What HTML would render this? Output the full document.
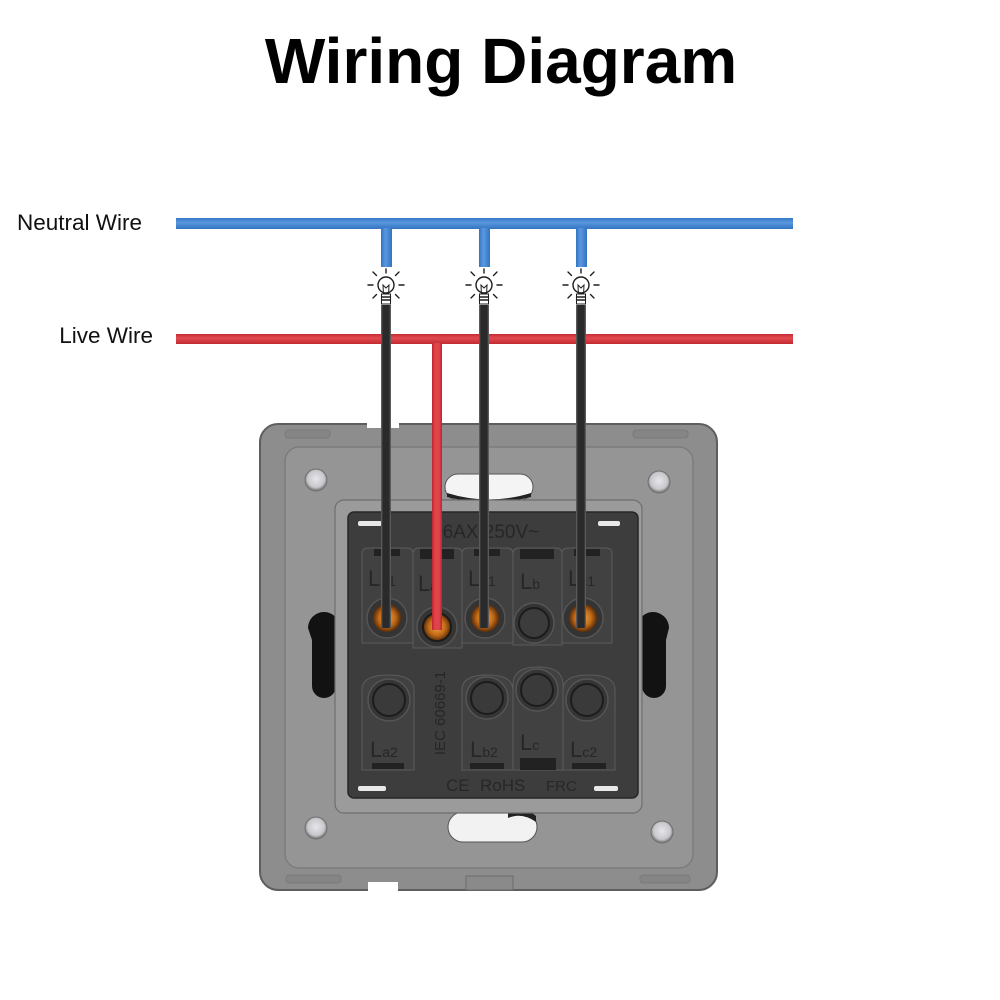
<!DOCTYPE html>
<html><head><meta charset="utf-8">
<style>
html,body{margin:0;padding:0;background:#fff;}
svg{display:block;}
</style></head>
<body>
<svg width="1000" height="1000" viewBox="0 0 1000 1000" xmlns="http://www.w3.org/2000/svg">
<defs>
  <radialGradient id="cu" cx="50%" cy="50%" r="50%">
    <stop offset="0" stop-color="#f0a040"/>
    <stop offset="0.6" stop-color="#c06a18"/>
    <stop offset="1" stop-color="#5a2c08"/>
  </radialGradient>
  <radialGradient id="hole" cx="50%" cy="45%" r="55%">
    <stop offset="0" stop-color="#e6e6ea"/>
    <stop offset="0.7" stop-color="#c8c8cc"/>
    <stop offset="1" stop-color="#6a6a6a"/>
  </radialGradient>
  <linearGradient id="bw" x1="0" x2="1" y1="0" y2="0">
    <stop offset="0" stop-color="#6a6a6a"/>
    <stop offset="0.2" stop-color="#2a2a2a"/>
    <stop offset="0.8" stop-color="#2a2a2a"/>
    <stop offset="1" stop-color="#6a6a6a"/>
  </linearGradient>
  <linearGradient id="rw" x1="0" x2="1" y1="0" y2="0">
    <stop offset="0" stop-color="#b8262c"/>
    <stop offset="0.3" stop-color="#e0444a"/>
    <stop offset="0.7" stop-color="#e0444a"/>
    <stop offset="1" stop-color="#b8262c"/>
  </linearGradient>
  <linearGradient id="rh" x1="0" x2="0" y1="0" y2="1">
    <stop offset="0" stop-color="#c22e34"/>
    <stop offset="0.4" stop-color="#e24a50"/>
    <stop offset="1" stop-color="#c02a30"/>
  </linearGradient>
  <linearGradient id="bh" x1="0" x2="0" y1="0" y2="1">
    <stop offset="0" stop-color="#3577c6"/>
    <stop offset="0.4" stop-color="#5a98de"/>
    <stop offset="1" stop-color="#3373c2"/>
  </linearGradient>
  <linearGradient id="bv" x1="0" x2="1" y1="0" y2="0">
    <stop offset="0" stop-color="#3373c2"/>
    <stop offset="0.4" stop-color="#5a98de"/>
    <stop offset="1" stop-color="#3373c2"/>
  </linearGradient>
</defs>

<!-- Title -->
<text x="501" y="83" text-anchor="middle" font-family="Liberation Sans, sans-serif" font-weight="bold" font-size="64" fill="#000">Wiring Diagram</text>

<!-- Labels -->
<text x="17" y="230" font-family="Liberation Sans, sans-serif" font-size="22.5" fill="#111">Neutral Wire</text>
<text x="153" y="343" text-anchor="end" font-family="Liberation Sans, sans-serif" font-size="22.5" fill="#111">Live Wire</text>

<!-- Plate -->
<rect x="260" y="424" width="457" height="466" rx="18" fill="#8d8d8d" stroke="#5e5e5e" stroke-width="2"/>
<rect x="285" y="447" width="408" height="421" rx="14" fill="#959595" stroke="#7c7c7c" stroke-width="1.5"/>
<!-- rim details -->
<rect x="285" y="430" width="45" height="8" rx="3" fill="#858585" stroke="#777" stroke-width="0.8"/>
<rect x="633" y="430" width="55" height="8" rx="3" fill="#858585" stroke="#777" stroke-width="0.8"/>
<rect x="286" y="875" width="55" height="8" rx="3" fill="#858585" stroke="#777" stroke-width="0.8"/>
<rect x="640" y="875" width="50" height="8" rx="3" fill="#858585" stroke="#777" stroke-width="0.8"/>
<rect x="367" y="421" width="32" height="7" fill="#fff"/>
<rect x="368" y="882" width="30" height="9" fill="#fff"/>
<rect x="466" y="876" width="47" height="14" fill="#8a8a8a" stroke="#6a6a6a" stroke-width="1"/>

<!-- Screw holes -->
<circle cx="316" cy="480" r="11" fill="url(#hole)" stroke="#707070" stroke-width="1"/>
<circle cx="659" cy="482" r="11" fill="url(#hole)" stroke="#707070" stroke-width="1"/>
<circle cx="316" cy="828" r="11" fill="url(#hole)" stroke="#707070" stroke-width="1"/>
<circle cx="662" cy="832" r="11" fill="url(#hole)" stroke="#707070" stroke-width="1"/>

<!-- Top / bottom slots -->
<rect x="445" y="474" width="88" height="26" rx="13" fill="#f4f4f4" stroke="#555" stroke-width="1"/>
<path d="M447 493 Q489 506 531 493 L531 497 Q489 508 447 497 Z" fill="#222"/>
<rect x="448" y="812" width="89" height="30" rx="15" fill="#f2f2f2" stroke="#555" stroke-width="1"/>
<path d="M508 813 Q525 806 536 816 L536 822 Q522 812 508 818 Z" fill="#222"/>

<!-- Side keyhole slots -->
<path d="M308 628 A16 16 0 0 1 340 628 L336 640 L336 686 A12 12 0 0 1 312 686 L312 640 Z" fill="#121212"/>
<path d="M637 628 A16 16 0 0 1 669 628 L666 640 L666 686 A12 12 0 0 1 642 686 L642 640 Z" fill="#121212"/>

<!-- Recess -->
<rect x="335" y="500" width="307" height="313" rx="9" fill="#9b9b9b" stroke="#6e6e6e" stroke-width="1.2"/>

<!-- Module -->
<rect x="348" y="512" width="290" height="286" rx="6" fill="#3d3d3d" stroke="#262626" stroke-width="1.5"/>
<rect x="358" y="521" width="24" height="5" rx="2" fill="#e8e8e8"/>
<rect x="598" y="521" width="22" height="5" rx="2" fill="#e8e8e8"/>
<rect x="358" y="786" width="28" height="5" rx="2" fill="#e8e8e8"/>
<rect x="594" y="786" width="24" height="5" rx="2" fill="#e8e8e8"/>

<text x="432" y="538" font-family="Liberation Sans, sans-serif" font-size="19" fill="#262626">16AX 250V~</text>

<!-- Top row columns -->
<g fill="#414141" stroke="#5c5c5c" stroke-width="1">
  <path d="M362 643 L362 554 Q362 548 368 548 L407 548 Q413 548 413 554 L413 643 Z"/>
  <path d="M413 648 L413 554 Q413 548 419 548 L456 548 Q462 548 462 554 L462 648 Z"/>
  <path d="M462 643 L462 554 Q462 548 468 548 L507 548 Q513 548 513 554 L513 643 Z"/>
  <path d="M513 645 L513 554 Q513 548 519 548 L556 548 Q562 548 562 554 L562 645 Z"/>
  <path d="M562 643 L562 554 Q562 548 568 548 L606 548 Q612 548 612 554 L612 643 Z"/>
</g>
<g fill="#222">
  <rect x="374" y="549" width="26" height="7"/>
  <rect x="420" y="549" width="34" height="10"/>
  <rect x="474" y="549" width="26" height="7"/>
  <rect x="520" y="549" width="34" height="10"/>
  <rect x="574" y="549" width="26" height="7"/>
</g>
<g font-family="Liberation Sans, sans-serif" fill="#262626">
  <text x="368" y="586" font-size="22">L<tspan font-size="14">a1</tspan></text>
  <text x="418" y="591" font-size="22">L<tspan font-size="14">a</tspan></text>
  <text x="468" y="586" font-size="22">L<tspan font-size="14">b1</tspan></text>
  <text x="520" y="589" font-size="22">L<tspan font-size="14">b</tspan></text>
  <text x="568" y="586" font-size="22">L<tspan font-size="14">c1</tspan></text>
</g>

<!-- Top row terminals -->
<circle cx="387" cy="618" r="20" fill="#343434" stroke="#555" stroke-width="1.5"/>
<circle cx="387" cy="618" r="14" fill="url(#cu)"/>
<circle cx="437" cy="627" r="20" fill="#343434" stroke="#555" stroke-width="1.5"/>
<circle cx="437" cy="627" r="14" fill="url(#cu)" stroke="#1a1a1a" stroke-width="2"/>
<circle cx="485" cy="618" r="20" fill="#343434" stroke="#555" stroke-width="1.5"/>
<circle cx="485" cy="618" r="14" fill="url(#cu)"/>
<circle cx="534" cy="623" r="20" fill="#343434" stroke="#555" stroke-width="1.5"/>
<circle cx="534" cy="623" r="15" fill="#3c3c3c" stroke="#1c1c1c" stroke-width="2"/>
<circle cx="583" cy="618" r="20" fill="#343434" stroke="#555" stroke-width="1.5"/>
<circle cx="583" cy="618" r="14" fill="url(#cu)"/>

<!-- Bottom row columns -->
<g fill="#414141" stroke="#5c5c5c" stroke-width="1">
  <path d="M362 770 L362 690 Q362 675 388 675 Q414 675 414 690 L414 770 Z"/>
  <path d="M462 770 L462 690 Q462 675 487 675 Q513 675 513 690 L513 770 Z"/>
  <path d="M513 770 L513 685 Q513 667 538 667 Q563 667 563 685 L563 770 Z"/>
  <path d="M563 770 L563 690 Q563 675 589 675 Q615 675 615 690 L615 770 Z"/>
</g>
<g fill="#222">
  <rect x="372" y="763" width="32" height="6"/>
  <rect x="470" y="763" width="34" height="6"/>
  <rect x="520" y="758" width="36" height="12"/>
  <rect x="572" y="763" width="34" height="6"/>
</g>
<circle cx="389" cy="700" r="21" fill="#363636" stroke="#555" stroke-width="1.5"/>
<circle cx="389" cy="700" r="16" fill="#3a3a3a" stroke="#1c1c1c" stroke-width="2"/>
<circle cx="487" cy="698" r="21" fill="#363636" stroke="#555" stroke-width="1.5"/>
<circle cx="487" cy="698" r="16" fill="#3a3a3a" stroke="#1c1c1c" stroke-width="2"/>
<circle cx="537" cy="690" r="21" fill="#363636" stroke="#555" stroke-width="1.5"/>
<circle cx="537" cy="690" r="16" fill="#3a3a3a" stroke="#1c1c1c" stroke-width="2"/>
<circle cx="587" cy="700" r="21" fill="#363636" stroke="#555" stroke-width="1.5"/>
<circle cx="587" cy="700" r="16" fill="#3a3a3a" stroke="#1c1c1c" stroke-width="2"/>
<g font-family="Liberation Sans, sans-serif" fill="#262626">
  <text x="370" y="757" font-size="22">L<tspan font-size="14">a2</tspan></text>
  <text x="470" y="757" font-size="22">L<tspan font-size="14">b2</tspan></text>
  <text x="520" y="750" font-size="22">L<tspan font-size="14">c</tspan></text>
  <text x="570" y="757" font-size="22">L<tspan font-size="14">c2</tspan></text>
</g>
<text transform="translate(445,713) rotate(-90)" text-anchor="middle" font-family="Liberation Sans, sans-serif" font-size="15" fill="#262626">IEC 60669-1</text>
<g font-family="Liberation Sans, sans-serif" fill="#272727" font-size="17">
  <text x="446" y="791">CE</text>
  <text x="480" y="791">RoHS</text>
  <text x="546" y="791" font-size="15">FRC</text>
</g>

<!-- Neutral wire -->
<rect x="176" y="218" width="617" height="11" fill="url(#bh)"/>
<rect x="381" y="228" width="11" height="39" fill="url(#bv)"/>
<rect x="479" y="228" width="11" height="39" fill="url(#bv)"/>
<rect x="576" y="228" width="11" height="39" fill="url(#bv)"/>

<!-- Live wire -->
<rect x="176" y="334" width="617" height="10" fill="url(#rh)"/>
<rect x="432" y="343" width="10" height="287" fill="url(#rw)"/>

<!-- Bulbs -->
<g id="bulbs" fill="none" stroke="#1e1e1e" stroke-width="1.4" stroke-linecap="round">
  <g transform="translate(386,0)">
    <line x1="0" y1="269" x2="0" y2="273"/>
    <circle cx="0" cy="285" r="8" fill="#fff"/>
    <line x1="-18" y1="285" x2="-13" y2="285"/><line x1="13" y1="285" x2="18" y2="285"/>
    <line x1="-13" y1="272" x2="-9.5" y2="275.5"/><line x1="13" y1="272" x2="9.5" y2="275.5"/>
    <line x1="-13" y1="298" x2="-9.5" y2="294.5"/><line x1="13" y1="298" x2="9.5" y2="294.5"/>
    <path d="M-2.5 296 L-3 285 L0 288 L3 285 L2.5 296" stroke-width="1"/>
    <rect x="-4.5" y="294" width="9" height="10" fill="#fff" stroke-width="1"/>
    <line x1="-4.5" y1="297" x2="4.5" y2="297"/><line x1="-4.5" y1="300" x2="4.5" y2="300"/>
  </g>
  <g transform="translate(484,0)">
    <line x1="0" y1="269" x2="0" y2="273"/>
    <circle cx="0" cy="285" r="8" fill="#fff"/>
    <line x1="-18" y1="285" x2="-13" y2="285"/><line x1="13" y1="285" x2="18" y2="285"/>
    <line x1="-13" y1="272" x2="-9.5" y2="275.5"/><line x1="13" y1="272" x2="9.5" y2="275.5"/>
    <line x1="-13" y1="298" x2="-9.5" y2="294.5"/><line x1="13" y1="298" x2="9.5" y2="294.5"/>
    <path d="M-2.5 296 L-3 285 L0 288 L3 285 L2.5 296" stroke-width="1"/>
    <rect x="-4.5" y="294" width="9" height="10" fill="#fff" stroke-width="1"/>
    <line x1="-4.5" y1="297" x2="4.5" y2="297"/><line x1="-4.5" y1="300" x2="4.5" y2="300"/>
  </g>
  <g transform="translate(581,0)">
    <line x1="0" y1="269" x2="0" y2="273"/>
    <circle cx="0" cy="285" r="8" fill="#fff"/>
    <line x1="-18" y1="285" x2="-13" y2="285"/><line x1="13" y1="285" x2="18" y2="285"/>
    <line x1="-13" y1="272" x2="-9.5" y2="275.5"/><line x1="13" y1="272" x2="9.5" y2="275.5"/>
    <line x1="-13" y1="298" x2="-9.5" y2="294.5"/><line x1="13" y1="298" x2="9.5" y2="294.5"/>
    <path d="M-2.5 296 L-3 285 L0 288 L3 285 L2.5 296" stroke-width="1"/>
    <rect x="-4.5" y="294" width="9" height="10" fill="#fff" stroke-width="1"/>
    <line x1="-4.5" y1="297" x2="4.5" y2="297"/><line x1="-4.5" y1="300" x2="4.5" y2="300"/>
  </g>
</g>

<!-- Black load wires -->
<rect x="381" y="305" width="10" height="323" fill="url(#bw)"/>
<rect x="479" y="305" width="10" height="323" fill="url(#bw)"/>
<rect x="576" y="305" width="10" height="323" fill="url(#bw)"/>
</svg>
</body></html>
